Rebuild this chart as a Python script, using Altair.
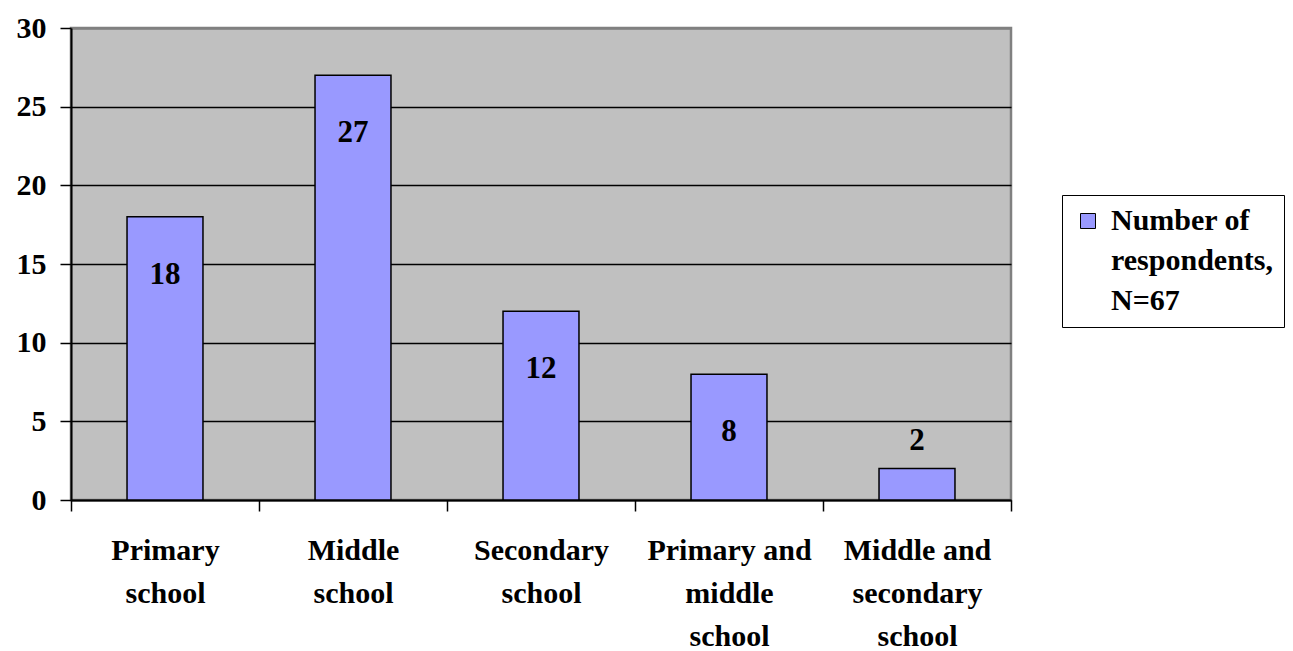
import altair as alt
import pandas as pd

# School levels (line breaks mark how the axis labels wrap) and respondent counts
categories = [
    "Primary\nschool",
    "Middle\nschool",
    "Secondary\nschool",
    "Primary and\nmiddle\nschool",
    "Middle and\nsecondary\nschool",
]
respondents = [18, 27, 12, 8, 2]
series_lines = ["Number of", "respondents,", "N=67"]
y_ticks = [0, 5, 10, 15, 20, 25, 30]

series_name = "\n".join(series_lines)
df = pd.DataFrame({"level": categories, "count": respondents, "series": series_name})

W, H = 940, 472
LEFT, TOP = 71, 28
TOTAL_W, TOTAL_H = 1293, 651
FONT = "Liberation Serif"

x_enc = alt.X(
    "level:N",
    sort=categories,
    scale=alt.Scale(paddingInner=0, paddingOuter=0),
    axis=alt.Axis(
        title=None,
        labelExpr="split(datum.label, '\\n')",
        labelAngle=0,
        labelFont=FONT,
        labelFontWeight="bold",
        labelFontSize=30,
        labelLineHeight=43,
        labelColor="black",
        labelPadding=24,
        labelBaseline="top",
        labelLimit=300,
        tickBand="extent",
        tickColor="black",
        tickSize=11,
        tickWidth=1.5,
        domainColor="black",
        domainWidth=2,
        grid=False,
    ),
)

y_enc = alt.Y(
    "count:Q",
    scale=alt.Scale(domain=[0, 30], nice=False),
    axis=alt.Axis(
        title=None,
        values=y_ticks,
        labelFont=FONT,
        labelFontWeight="bold",
        labelFontSize=30,
        labelColor="black",
        labelPadding=14,
        tickColor="black",
        tickSize=11,
        tickWidth=1.5,
        domainColor="black",
        domainWidth=2,
        grid=True,
        gridColor={"condition": {"test": "datum.value >= 30", "value": "#808080"}, "value": "black"},
        gridWidth={"condition": {"test": "datum.value >= 30", "value": 2.5}, "value": 1.5},
    ),
)

bars = alt.Chart(df).mark_bar(
    stroke="black", strokeWidth=1.5, width=alt.RelativeBandSize(0.404)
).encode(
    x=x_enc,
    y=y_enc,
    color=alt.Color(
        "series:N",
        scale=alt.Scale(domain=[series_name], range=["#9999FF"]),
        legend=alt.Legend(
            title=None,
            orient="none",
            legendX=991,
            legendY=167,
            padding=11,
            strokeColor="black",
            fillColor="white",
            symbolType="square",
            symbolSize=225,
            symbolStrokeColor="black",
            symbolStrokeWidth=1,
            symbolOpacity=1,
            labelExpr="split(datum.label, '\\n')",
            labelFont=FONT,
            labelFontWeight="bold",
            labelFontSize=30,
            labelColor="black",
            labelBaseline="middle",
            labelOffset=8,
            labelLimit=400,
        ),
    ),
)

label_style = dict(font=FONT, fontWeight="bold", fontSize=31, color="black", baseline="middle")

inside = alt.Chart(df).mark_text(dy=58, **label_style).encode(
    x=alt.X("level:N", sort=categories), y="count:Q", text="count:Q"
).transform_filter("datum.count >= 5")

above = alt.Chart(df).mark_text(dy=-28, **label_style).encode(
    x=alt.X("level:N", sort=categories), y="count:Q", text="count:Q"
).transform_filter("datum.count < 5")

chart = (
    alt.layer(bars, inside, above)
    .properties(
        width=W,
        height=H,
        autosize=alt.AutoSizeParams(type="none"),
        padding={"left": LEFT, "top": TOP, "right": TOTAL_W - LEFT - W, "bottom": TOTAL_H - TOP - H},
        background="white",
    )
    .configure(
        view={"fill": "#C0C0C0", "stroke": "#808080", "strokeWidth": 2.5},
        style={"guide-label": {"lineHeight": 40}},
    )
)

chart.save("out.html", embed_options={"renderer": "svg", "actions": False})
